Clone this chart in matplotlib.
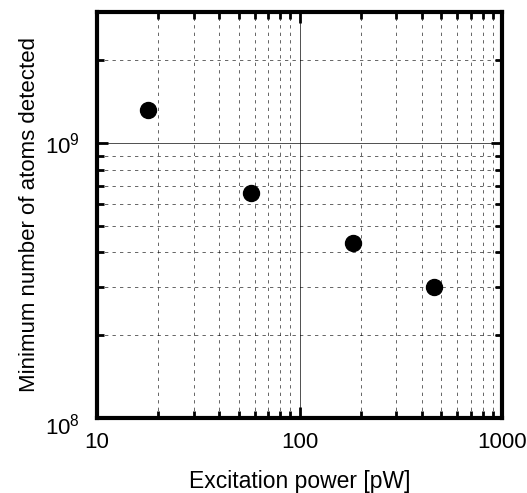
import matplotlib
matplotlib.use("Agg")
import matplotlib.pyplot as plt
import matplotlib.transforms as mtransforms
from matplotlib.ticker import LogLocator, FixedLocator, NullFormatter, FixedFormatter

power_pw = [17.9, 57.8, 183, 461]
min_atoms = [1.32e9, 6.58e8, 4.33e8, 2.99e8]
x_ticks = [10, 100, 1000]
x_tick_labels = ["10", "100", "1000"]
y_ticks = [1e8, 1e9]
y_tick_labels = [r"$10^8$", r"$10^9$"]

plt.rcParams['font.family'] = ['Liberation Sans', 'DejaVu Sans']
plt.rcParams['mathtext.fontset'] = 'custom'
plt.rcParams['mathtext.rm'] = 'Liberation Sans'
plt.rcParams['mathtext.it'] = 'Liberation Sans'
fig = plt.figure(figsize=(5.27, 4.93), dpi=100)
ax = fig.add_axes([0.184, 0.152, 0.769, 0.824])
ax.set_xscale('log')
ax.set_yscale('log')
ax.set_xlim(10, 1000)
ax.set_ylim(1e8, 3e9)

ax.plot(power_pw, min_atoms, 'o', color='black', markersize=11.5, zorder=5)

ax.xaxis.set_major_locator(FixedLocator(x_ticks))
ax.xaxis.set_major_formatter(FixedFormatter(x_tick_labels))
ax.yaxis.set_major_locator(FixedLocator(y_ticks))
ax.yaxis.set_major_formatter(FixedFormatter(y_tick_labels))
ax.xaxis.set_minor_locator(LogLocator(base=10, subs=range(2, 10)))
ax.yaxis.set_minor_locator(LogLocator(base=10, subs=range(2, 10)))
ax.xaxis.set_minor_formatter(NullFormatter())
ax.yaxis.set_minor_formatter(NullFormatter())

ax.grid(which='major', color='black', linestyle='-', linewidth=0.6, alpha=0.8)
ax.grid(which='minor', color='black', linestyle=(0, (4, 5)), linewidth=0.6, alpha=0.7)

for s in ax.spines.values():
    s.set_linewidth(3)
ax.tick_params(which='both', direction='in', top=True, right=True, width=2)
ax.tick_params(which='major', length=8, labelsize=16)
ax.tick_params(axis='x', which='major', pad=10)
ax.tick_params(axis='y', which='major', pad=12)
ax.tick_params(which='minor', length=5)

ax.set_xlabel("Excitation power [pW]", fontsize=16.5, labelpad=12)
ax.set_ylabel("Minimum number of atoms detected", fontsize=16, labelpad=4)

fig.canvas.draw()
lbl = ax.yaxis.get_majorticklabels()[0]
lbl.set_transform(lbl.get_transform() + mtransforms.ScaledTranslation(0, -4/72, fig.dpi_scale_trans))

fig.savefig("out.png", dpi=100)
